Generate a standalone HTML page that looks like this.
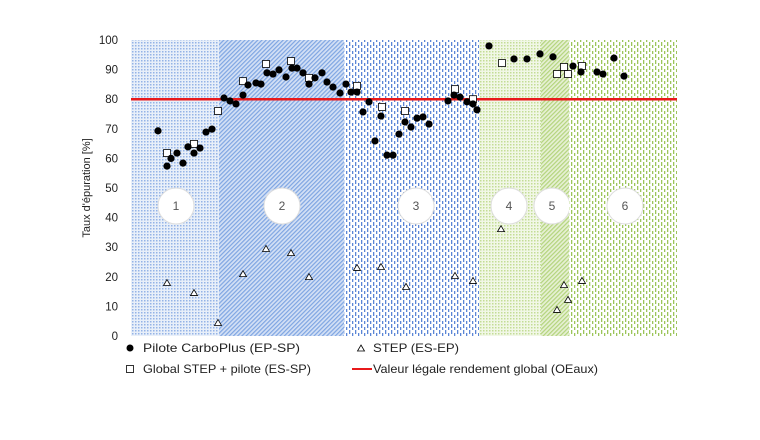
<!DOCTYPE html>
<html><head><meta charset="utf-8"><style>
body{margin:0;background:#fff;}
svg{display:block;font-family:"Liberation Sans",sans-serif;}
</style></head><body>
<svg id="chart" width="760" height="440" viewBox="0 0 760 440" xmlns="http://www.w3.org/2000/svg">
<defs>
<pattern id="pDotB" width="3" height="3" patternUnits="userSpaceOnUse"><rect width="3" height="3" fill="#e8eff9"/><rect width="1.5" height="1.5" fill="#94b3e6"/></pattern>
<pattern id="pDiagB" width="3" height="3" patternUnits="userSpaceOnUse" patternTransform="rotate(45)"><rect width="3" height="3" fill="#d3e0f5"/><rect width="1.2" height="3" fill="#7ea5e2"/></pattern>
<pattern id="pVertB" width="6" height="6" patternUnits="userSpaceOnUse"><rect width="6" height="6" fill="#fff"/><rect x="1" width="1.3" height="4" fill="#5b86d6"/><rect x="4" y="3" width="1.3" height="4" fill="#5b86d6"/></pattern>
<pattern id="pDotG" width="3" height="3" patternUnits="userSpaceOnUse"><rect width="3" height="3" fill="#f1f7e6"/><rect width="1.5" height="1.5" fill="#c3dc95"/></pattern>
<pattern id="pDiagG" width="3" height="3" patternUnits="userSpaceOnUse" patternTransform="rotate(45)"><rect width="3" height="3" fill="#e6f0d3"/><rect width="1.2" height="3" fill="#b3d47c"/></pattern>
<pattern id="pVertG" width="6" height="6" patternUnits="userSpaceOnUse"><rect width="6" height="6" fill="#fff"/><rect x="1" width="1.3" height="4" fill="#9cc55a"/><rect x="4" y="3" width="1.3" height="4" fill="#9cc55a"/></pattern>
</defs>
<g id="zones"></g>
<g id="yaxis"></g>
<text transform="translate(90,188) rotate(-90)" text-anchor="middle" font-size="11" fill="#222">Taux d'épuration [%]</text>
<g id="marks"></g>
<g id="legend">
<circle cx="130" cy="348" r="3.5" fill="#000"/>
<text x="143" y="352" font-size="12" fill="#222" textLength="157" lengthAdjust="spacingAndGlyphs">Pilote CarboPlus (EP-SP)</text>
<path d="M361,345 L364.5,351 L357.5,351 Z" fill="#fff" stroke="#000" stroke-width="0.8"/>
<text x="373" y="352" font-size="12" fill="#222" textLength="86" lengthAdjust="spacingAndGlyphs">STEP (ES-EP)</text>
<rect x="126.5" y="365.5" width="7" height="7" fill="#fff" stroke="#000" stroke-width="0.8"/>
<text x="143" y="373" font-size="12" fill="#222" textLength="168" lengthAdjust="spacingAndGlyphs">Global STEP + pilote (ES-SP)</text>
<line x1="352" y1="369" x2="372" y2="369" stroke="#e8191b" stroke-width="2"/>
<text x="373" y="373" font-size="12" fill="#222" textLength="225" lengthAdjust="spacingAndGlyphs">Valeur légale rendement global (OEaux)</text>
</g>
</svg>
<script>
const zoneStarts=[0,88,213,348,410,438];
const zoneEnds=[88,213,348,410,438,546];
const zoneLabels=["1","2","3","4","5","6"];
const zoneLabelX=[45,151,285,378,421,494];
const zoneFills=["pDotB","pDiagB","pVertB","pDotG","pDiagG","pVertG"];
const yTicks=[0,10,20,30,40,50,60,70,80,90,100];
const legalValue=80;
const piloteX=[27,36,40,46,52,57,63,69,75,81,93,99,105,112,117,125,130,136,142,148,155,161,166,172,178,184,191,196,202,209,215,220,226,232,238,244,250,256,262,268,274,280,286,292,298,317,323,329,336,342,346,358,383,396,409,422,442,450,466,472,483,493];
const piloteY=[69.3,57.4,60,61.8,58.4,63.9,61.8,63.5,68.9,69.9,80.4,79.4,78.4,81.4,84.8,85.5,85.1,88.9,88.5,89.9,87.5,90.5,90.5,88.9,85.1,87.2,88.9,85.8,84.1,82.1,85.1,82.4,82.4,75.7,79.1,65.9,74.3,61.1,61.1,68.2,72.3,70.6,73.6,74,71.6,79.4,81.4,80.7,79.1,78.4,76.4,98,93.6,93.6,95.3,94.3,91.2,89.2,89.2,88.5,93.9,87.8];
const globalX=[36,63,87,112,135,160,178,226,251,274,324,342,371,426,433,437,451];
const globalY=[61.8,64.9,76,86.1,91.9,92.9,87.2,84.5,77.4,76,83.4,80,92.2,88.5,90.9,88.5,91.2];
const stepX=[36,63,87,112,135,160,178,226,250,275,324,342,370,426,437,433,451];
const stepY=[17.9,14.5,4.4,20.9,29.4,28,19.9,23,23.3,16.6,20.3,18.6,36.1,8.8,12.2,17.2,18.6];
const X0=131,X1=677,Y0=336,Y1=40,XMAX=546,YMAX=100;
function xs(v){return X0+v/XMAX*(X1-X0);}
function ys(v){return Y0-v/YMAX*(Y0-Y1);}
const NS="http://www.w3.org/2000/svg";
function mk(tag,attrs,parent){const e=document.createElementNS(NS,tag);for(const k in attrs)e.setAttribute(k,attrs[k]);parent.appendChild(e);return e;}
const zones=document.getElementById('zones');
for(let i=0;i<zoneStarts.length;i++){
  const r=mk('rect',{x:xs(zoneStarts[i]),y:ys(100),width:xs(zoneEnds[i])-xs(zoneStarts[i]),height:ys(0)-ys(100),fill:'url(#'+zoneFills[i]+')'},zones);
  
  
  const c=mk('circle',{cx:xs(zoneLabelX[i]),cy:206,r:18,fill:'#fff',stroke:'#ddd','stroke-width':1},zones);
  
  
  const t=mk('text',{x:xs(zoneLabelX[i]),y:210,'text-anchor':'middle','font-size':12,fill:'#555'},zones);
  t.textContent=zoneLabels[i];
  
  
}
const ya=document.getElementById('yaxis');
yTicks.forEach(v=>{
  const t=mk('text',{x:118,y:ys(v)+4,'text-anchor':'end','font-size':11.5,fill:'#222'},ya);
  t.textContent=v;
  
  
});
const m=document.getElementById('marks');
const leg=mk('line',{x1:X0,x2:X1,y1:ys(legalValue),y2:ys(legalValue),stroke:'#e8191b','stroke-width':2.5},m);


stepX.forEach((x,i)=>{
  const cx=xs(x),cy=ys(stepY[i]);
  const p=mk('path',{d:`M${cx},${cy-3.5} L${cx+3.5},${cy+2.5} L${cx-3.5},${cy+2.5} Z`,fill:'#fff',stroke:'#000','stroke-width':0.8},m);
  
  
});
globalX.forEach((x,i)=>{
  const r=mk('rect',{x:xs(x)-3.5,y:ys(globalY[i])-3.5,width:7,height:7,fill:'#fff',stroke:'#000','stroke-width':0.8},m);
  
  
});
piloteX.forEach((x,i)=>{
  const c=mk('circle',{cx:xs(x),cy:ys(piloteY[i]),r:3.6,fill:'#000'},m);
  
  
});
</script>
</body></html>
